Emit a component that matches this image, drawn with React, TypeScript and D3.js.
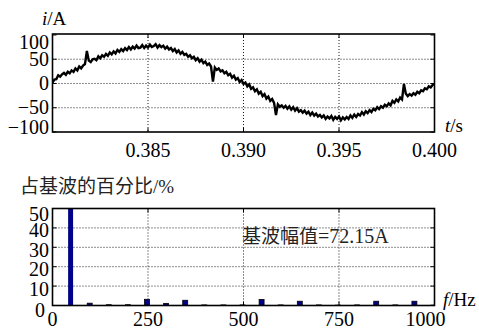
import React from "react";
import * as d3 from "d3";

// ---- Data ----
// current waveform, sampled every 0.1 ms from t = 0.380 s to 0.400 s
const tStart = 0.38;
const tStep = 0.0001;
const current = [
  2, 8, 9, 17, 14, 19, 22, 18, 24, 21,
  27, 24, 31, 27, 35, 31, 37, 40, 67, 47,
  44, 50, 51, 48, 56, 52, 58, 55, 61, 57,
  64, 60, 66, 62, 69, 65, 71, 67, 73, 69,
  75, 70, 76, 72, 78, 73, 74, 79, 73, 78,
  74, 80, 75, 77, 81, 74, 79, 75, 78, 72,
  76, 70, 73, 67, 71, 64, 68, 61, 65, 59,
  61, 55, 58, 52, 55, 48, 52, 45, 49, 42,
  45, 38, 41, 35, 4, 33, 28, 31, 25, 27,
  21, 24, 17, 20, 12, 16, 8, 11, 3, 7,
  -1, 2, -6, -2, -11, -8, -16, -12, -21, -17,
  -26, -22, -31, -27, -36, -32, -40, -65, -43, -48,
  -45, -50, -46, -52, -47, -54, -49, -56, -51, -58,
  -55, -60, -56, -62, -58, -65, -60, -66, -62, -68,
  -65, -70, -66, -73, -68, -72, -67, -75, -69, -73,
  -68, -76, -70, -74, -69, -73, -66, -71, -64, -69,
  -63, -66, -59, -64, -57, -61, -55, -59, -52, -55,
  -49, -53, -47, -50, -44, -47, -41, -45, -36, -40,
  -33, -37, -29, -33, -1, -21, -26, -22, -25, -20,
  -23, -17, -20, -14, -16, -10, -12, -6, -8, -3,
  -2,
];
const timeTicks = [0.385, 0.39, 0.395, 0.4];
const currentTicks = [100, 50, 0, -50, -100];

// harmonic spectrum (% of fundamental)
const harmonicFreqs = [50, 100, 150, 200, 250, 300, 350, 400, 450, 500, 550, 600, 650, 700, 750, 800, 850, 900, 950, 1000];
const harmonicPct = [100, 1.2, 0.4, 0.4, 3.2, 1.1, 2.7, 0.3, 0.3, 0.3, 3.1, 0.3, 2.2, 0.3, 0.2, 0.3, 2.2, 0.3, 2.2, 0.2];
const freqTicks = [0, 250, 500, 750, 1000];
const pctTicks = [50, 40, 30, 20, 10, 0];
const fundamentalText = "基波幅值=72.15A";

const SERIF = "Liberation Serif, DejaVu Serif, serif";
const CJK = "Noto Sans CJK SC, sans-serif";
const serif = { fontFamily: SERIF };
const cjk = { fontFamily: CJK };

export default function App() {
  const L = 52.5, R = 434.5;
  // top plot
  const xT = d3.scaleLinear().domain([0.38, 0.4]).range([L, R]);
  const yT = d3.scaleLinear().domain([-100, 102]).range([132, 34]);
  // bottom plot
  const xB = d3.scaleLinear().domain([0, 1000]).range([L, R]);
  const yB = d3.scaleLinear().domain([0, 50]).range([305.5, 208.5]);

  const line = d3
    .line<number>()
    .x((_, i) => xT(tStart + i * tStep))
    .y((d) => yT(d));

  const grid = { stroke: "#000", strokeWidth: 0.9, strokeDasharray: "1,2" };
  const tk = 4;
  const barW = xB(13) - xB(0);

  return (
    <svg
      width={479}
      height={329}
      style={{ position: "absolute", left: 0, top: 0, background: "#fff" }}
    >
      <defs>
        <clipPath id="clipTop">
          <rect x={L} y={yT(102)} width={R - L} height={yT(-100) - yT(102)} />
        </clipPath>
        <clipPath id="clipBot">
          <rect x={L} y={yB(50)} width={R - L} height={yB(0) - yB(50)} />
        </clipPath>
      </defs>

      {/* ---------- top plot ---------- */}
      <text x={42} y={25} fontSize={19} style={serif}>
        <tspan fontStyle="italic">i</tspan>/A
      </text>
      {timeTicks.slice(0, 3).map((t) => (
        <line key={t} x1={xT(t)} x2={xT(t)} y1={yT(102)} y2={yT(-100)} {...grid} />
      ))}
      {currentTicks.slice(1, 4).map((v) => (
        <line key={v} x1={L} x2={R} y1={yT(v)} y2={yT(v)} {...grid} />
      ))}
      {timeTicks.map((t) => (
        <g key={"tt" + t}>
          <line x1={xT(t)} x2={xT(t)} y1={yT(-100)} y2={yT(-100) - tk} stroke="#000" />
          <line x1={xT(t)} x2={xT(t)} y1={yT(102)} y2={yT(102) + tk} stroke="#000" />
        </g>
      ))}
      {currentTicks.map((v) => (
        <g key={"ct" + v}>
          <line x1={L} x2={L + tk} y1={yT(v)} y2={yT(v)} stroke="#000" />
          <line x1={R} x2={R - tk} y1={yT(v)} y2={yT(v)} stroke="#000" />
        </g>
      ))}
      <path
        d={line(current) ?? ""}
        fill="none"
        stroke="#000"
        strokeWidth={2.4}
        strokeLinejoin="miter"
        clipPath="url(#clipTop)"
      />
      <rect x={L} y={yT(102)} width={R - L} height={yT(-100) - yT(102)} fill="none" stroke="#000" strokeWidth={1.6} />
      {currentTicks.map((v, i) => (
        <text
          key={"cl" + v}
          x={49}
          y={yT(v) + 6.7 + (i === 0 ? 7 : i === currentTicks.length - 1 ? -4.5 : 0)}
          fontSize={20}
          textAnchor="end"
          style={serif}
        >
          {v < 0 ? "\u2212" + Math.abs(v) : v}
        </text>
      ))}
      {timeTicks.map((t) => (
        <text key={"tl" + t} x={xT(t)} y={157} fontSize={20} textAnchor="middle" style={serif}>
          {t.toFixed(3)}
        </text>
      ))}
      <text x={445} y={132} fontSize={19} style={serif}>
        <tspan fontStyle="italic">t</tspan>/s
      </text>

      {/* ---------- bottom plot ---------- */}
      <text x={20} y={193} fontSize={19} fill="#222">
        <tspan style={cjk}>占基波的百分比</tspan>
        <tspan style={serif}>/%</tspan>
      </text>
      {freqTicks.slice(1, 4).map((f) => (
        <line key={f} x1={xB(f)} x2={xB(f)} y1={yB(50)} y2={yB(0)} {...grid} />
      ))}
      {pctTicks.slice(1, 5).map((v) => (
        <line key={v} x1={L} x2={R} y1={yB(v)} y2={yB(v)} {...grid} />
      ))}
      {freqTicks.map((f) => (
        <g key={"ft" + f}>
          <line x1={xB(f)} x2={xB(f)} y1={yB(0)} y2={yB(0) - tk} stroke="#000" />
          <line x1={xB(f)} x2={xB(f)} y1={yB(50)} y2={yB(50) + tk} stroke="#000" />
        </g>
      ))}
      {pctTicks.map((v) => (
        <g key={"pt" + v}>
          <line x1={L} x2={L + tk} y1={yB(v)} y2={yB(v)} stroke="#000" />
          <line x1={R} x2={R - tk} y1={yB(v)} y2={yB(v)} stroke="#000" />
        </g>
      ))}
      <g clipPath="url(#clipBot)">
        {harmonicFreqs.map((f, i) => (
          <rect
            key={"b" + f}
            x={xB(f) - barW / 2 - 1}
            y={yB(Math.min(harmonicPct[i], 60))}
            width={barW}
            height={yB(0) - yB(Math.min(harmonicPct[i], 60))}
            fill="#000088"
            stroke={harmonicPct[i] >= 50 ? "none" : "#000"}
            strokeWidth={0.8}
          />
        ))}
      </g>
      <rect x={L} y={yB(50)} width={R - L} height={yB(0) - yB(50)} fill="none" stroke="#000" strokeWidth={1.6} />
      <text x={242} y={243} fontSize={19} fill="#222">
        <tspan style={cjk}>{fundamentalText.slice(0, 4)}</tspan>
        <tspan style={serif} fontSize={20}>{fundamentalText.slice(4)}</tspan>
      </text>
      {pctTicks.map((v) => (
        <text
          key={"pl" + v}
          x={v === 0 ? 45 : 49}
          y={yB(v) + (v === 50 ? 12 : v === 0 ? 11 : 9.5)}
          fontSize={20}
          textAnchor="end"
          style={serif}
        >
          {v}
        </text>
      ))}
      {freqTicks.map((f, i) => (
        <text
          key={"fl" + f}
          x={xB(f) + (i === freqTicks.length - 1 ? -9 : 0)}
          y={326}
          fontSize={20}
          textAnchor="middle"
          style={serif}
        >
          {f}
        </text>
      ))}
      <text x={443} y={306} fontSize={19} style={serif}>
        <tspan fontStyle="italic">f</tspan>/Hz
      </text>
    </svg>
  );
}
